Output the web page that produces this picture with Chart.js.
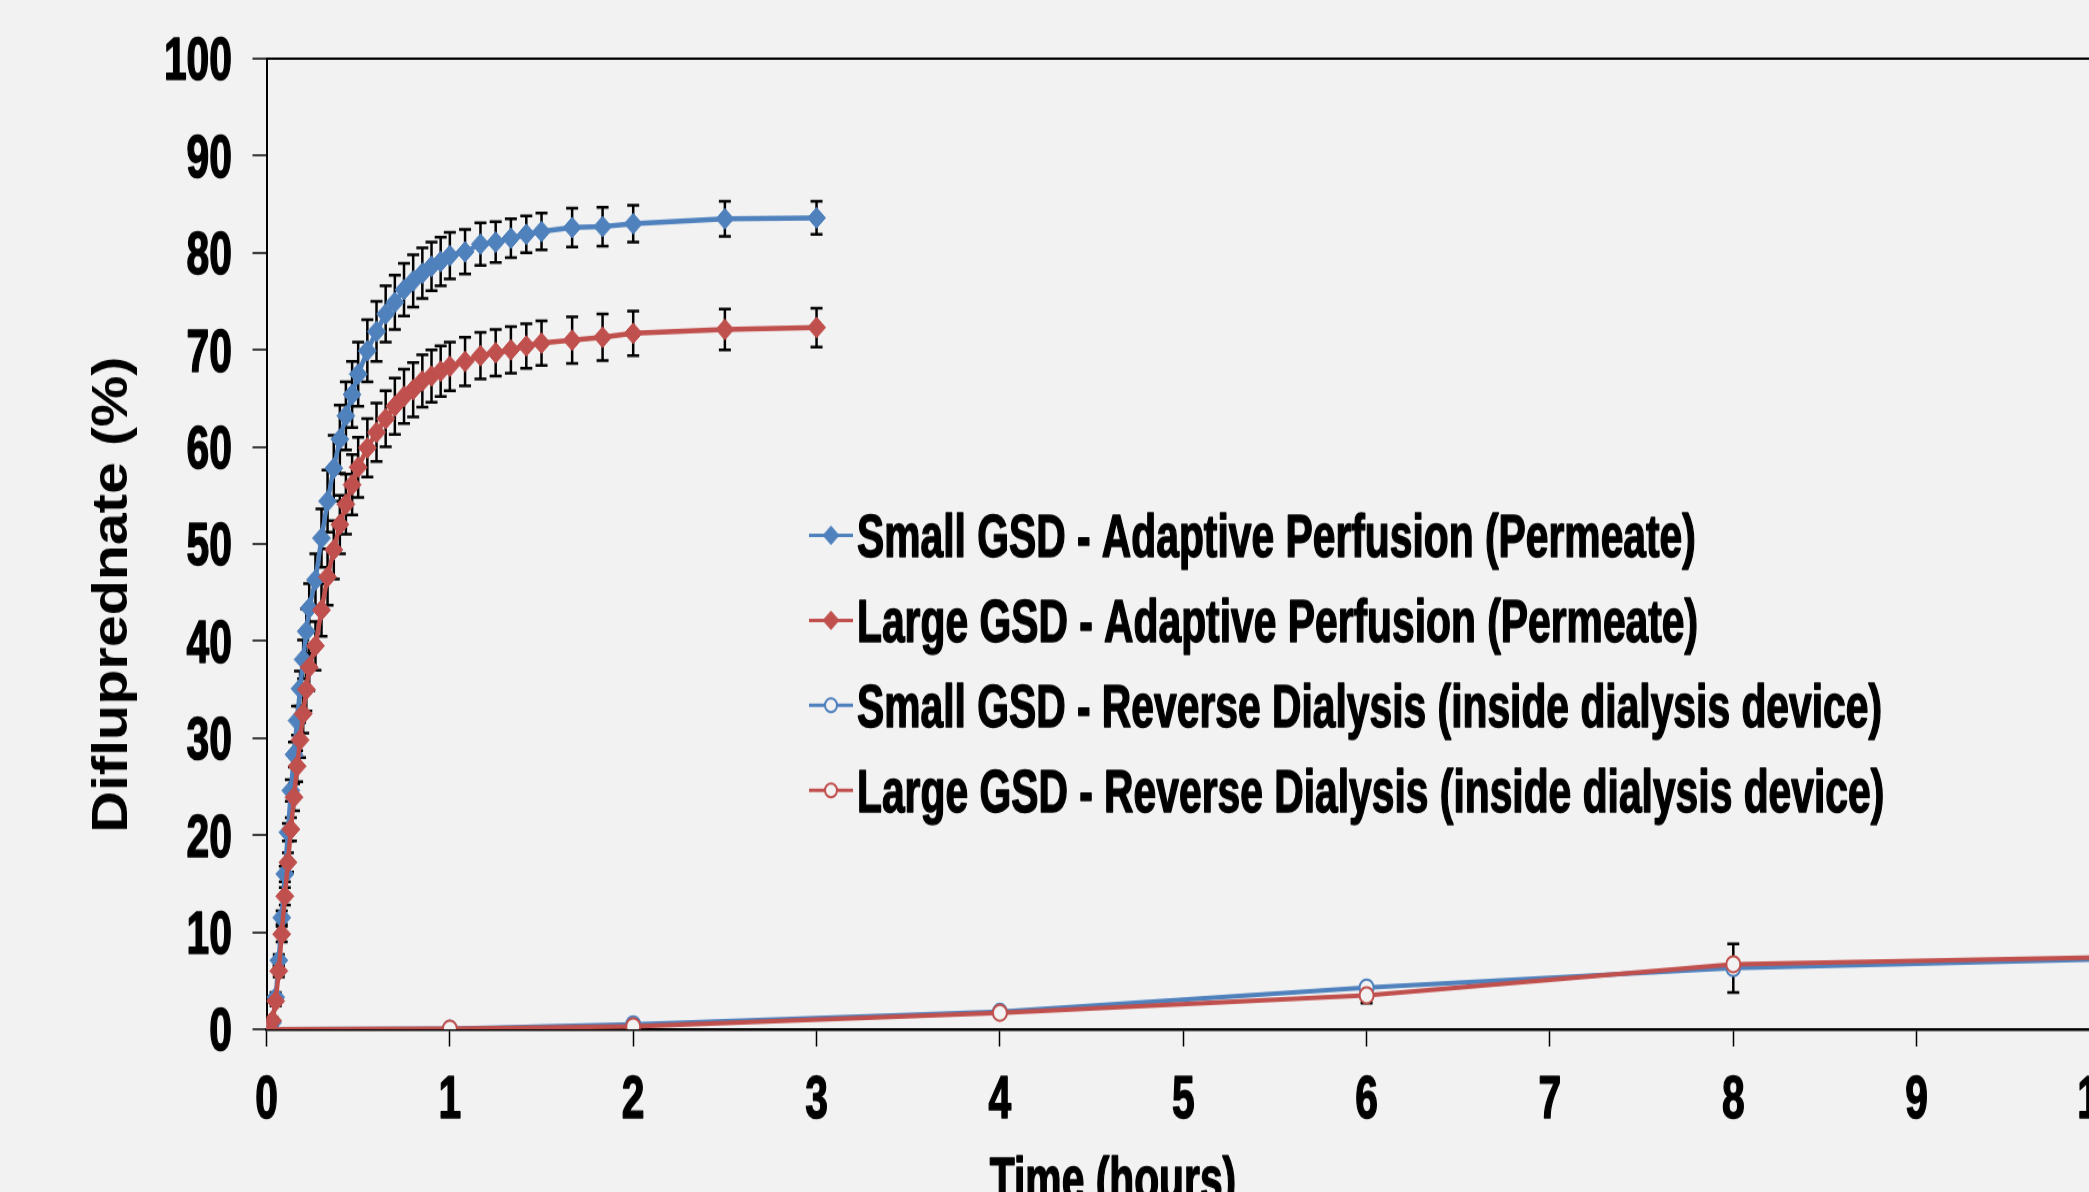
<!DOCTYPE html>
<html>
<head>
<meta charset="utf-8">
<script src="https://cdn.jsdelivr.net/npm/chart.js@4.4.1/dist/chart.umd.min.js"></script>
<style>
  html, body { margin:0; padding:0; background:#f2f2f2; overflow:hidden; }
  #wrap { position:relative; width:2089px; height:1192px; overflow:hidden; }
  #wrap canvas { position:absolute; left:0; top:0; }
</style>
</head>
<body>
<div id="wrap">
  <!-- drawn at 1060px tall, shown stretched to 1219px like the source figure -->
  <canvas id="chart" width="2140" height="1060" style="width:2140px;height:1219px"></canvas>
</div>
<script>
// ---- data -------------------------------------------------------------
const apHours = [0, 0.033, 0.05, 0.067, 0.083, 0.1, 0.117, 0.133, 0.15, 0.167, 0.183, 0.2, 0.217, 0.233,
                 0.267, 0.3, 0.333, 0.367, 0.4, 0.433, 0.467, 0.5,
                 0.55, 0.6, 0.65, 0.7, 0.75, 0.8, 0.85, 0.9, 0.95, 1.0,
                 1.083, 1.167, 1.25, 1.333, 1.417, 1.5, 1.667, 1.833, 2.0, 2.5, 3.0];

const smallAP    = [0, 0.7, 3.3, 7.1, 11.5, 16.0, 20.3, 24.6, 28.3, 31.8, 35.1, 38.1, 41.0, 43.4,
                    46.3, 50.6, 54.4, 57.8, 60.8, 63.2, 65.4, 67.5,
                    69.9, 71.9, 73.7, 74.9, 76.2, 77.1, 77.9, 78.6, 79.1, 79.7,
                    80.1, 80.9, 81.1, 81.5, 81.9, 82.2, 82.6, 82.7, 83.0, 83.5, 83.6];
const smallAPErr = [0, 0.3, 0.5, 0.6, 0.7, 0.8, 0.9, 1.1, 1.3, 1.5, 1.8, 2.0, 2.3, 2.5,
                    2.7, 3.0, 3.2, 3.4, 3.5, 3.5, 3.4, 3.3,
                    3.2, 3.1, 2.9, 2.8, 2.7, 2.7, 2.6, 2.5, 2.5, 2.4,
                    2.3, 2.2, 2.1, 2.0, 1.9, 1.9, 2.0, 2.0, 1.9, 1.8, 1.7];

const largeAP    = [0, 0.9, 2.9, 6.0, 9.8, 13.7, 17.2, 20.6, 23.9, 27.1, 29.8, 32.5, 35.0, 37.3,
                    39.5, 43.2, 46.6, 49.4, 52.0, 54.1, 56.1, 57.9,
                    59.9, 61.5, 62.9, 64.2, 65.2, 65.9, 66.8, 67.3, 67.8, 68.3,
                    68.8, 69.4, 69.7, 70.0, 70.4, 70.7, 71.0, 71.3, 71.7, 72.1, 72.3];
const largeAPErr = [0, 0.3, 0.5, 0.6, 0.8, 0.9, 1.0, 1.2, 1.4, 1.6, 1.8, 2.0, 2.2, 2.4,
                    2.5, 2.7, 2.9, 3.0, 3.0, 3.1, 3.1, 3.1,
                    3.0, 3.0, 2.9, 2.9, 2.8, 2.8, 2.7, 2.7, 2.6, 2.5,
                    2.5, 2.4, 2.4, 2.4, 2.3, 2.3, 2.4, 2.4, 2.3, 2.1, 2.0];

const rdHours    = [0, 1, 2, 4, 6, 8, 10];
const smallRD    = [0, 0.05, 0.5, 1.8, 4.3, 6.3, 7.2];
const smallRDErr = [0, 0, 0.2, 0.4, 0.3, 2.5, 0];
const largeRD    = [0, 0.05, 0.3, 1.7, 3.5, 6.7, 7.4];
const largeRDErr = [0, 0, 0.1, 0.5, 0.8, 0.4, 0];

const seriesLabels = [
  'Small GSD - Adaptive Perfusion (Permeate)',
  'Large GSD - Adaptive Perfusion (Permeate)',
  'Small GSD - Reverse Dialysis (inside dialysis device)',
  'Large GSD - Reverse Dialysis (inside dialysis device)'
];
const xTickValues = [0, 1, 2, 3, 4, 5, 6, 7, 8, 9, 10];
const yTickValues = [0, 10, 20, 30, 40, 50, 60, 70, 80, 90, 100];
const xTitle = 'Time (hours)';
const yTitle = 'Difluprednate (%)';

// ---- look -------------------------------------------------------------
const BLUE = '#4f81bd';
const RED  = '#c0504d';
const BG   = '#f2f2f2';
const SANS = "'Liberation Sans', Arial, sans-serif";
const NARROW_FONT = 'bold 51px ' + SANS;   // squeezed to 80% => Arial Narrow look
const SQUEEZE = 0.8;
const CAP = 18.3;                            // half cap height of NARROW_FONT

const pts = (xs, ys) => xs.map((x, i) => ({ x, y: ys[i] }));

function apSet(label, xs, ys, err, color, order) {
  return { label, data: pts(xs, ys), err, order,
    borderColor: color, backgroundColor: color, borderWidth: 4.5,
    pointStyle: 'rectRot', pointRadius: 9, pointBorderWidth: 1,
    pointBackgroundColor: color, pointBorderColor: color, tension: 0 };
}
function rdSet(label, xs, ys, err, color, order) {
  return { label, data: pts(xs, ys), err, order,
    borderColor: color, backgroundColor: BG, borderWidth: 4,
    pointStyle: 'circle', pointRadius: 7, pointBorderWidth: 2,
    pointBackgroundColor: BG, pointBorderColor: color, tension: 0 };
}

function narrowText(ctx, text, x, y, align) {
  ctx.save();
  ctx.translate(x, y);
  ctx.scale(SQUEEZE, 1);
  ctx.font = NARROW_FONT;
  ctx.textAlign = align;
  ctx.textBaseline = 'alphabetic';
  ctx.fillStyle = '#000';
  ctx.strokeStyle = '#000';
  ctx.lineWidth = 1.4;
  ctx.lineJoin = 'round';
  ctx.fillText(text, 0, 0);
  ctx.strokeText(text, 0, 0);
  ctx.restore();
}

// error bars, drawn under the series
const errorBars = {
  id: 'errorBars',
  beforeDatasetsDraw(chart) {
    const { ctx, scales: { x, y } } = chart;
    ctx.save();
    ctx.strokeStyle = '#000';
    ctx.lineWidth = 2.5;
    chart.data.datasets.forEach(ds => {
      ds.data.forEach((p, i) => {
        const e = ds.err[i];
        if (!e) return;
        const px = x.getPixelForValue(p.x);
        const top = y.getPixelForValue(p.y + e);
        const bot = y.getPixelForValue(p.y - e);
        ctx.beginPath();
        ctx.moveTo(px, top); ctx.lineTo(px, bot);
        ctx.moveTo(px - 6, top); ctx.lineTo(px + 6, top);
        ctx.moveTo(px - 6, bot); ctx.lineTo(px + 6, bot);
        ctx.stroke();
      });
    });
    ctx.restore();
  }
};

// tick labels, legend inside the plot, axis titles
const overlay = {
  id: 'overlay',
  afterDraw(chart) {
    const { ctx, scales: { x, y } } = chart;
    ctx.save();
    xTickValues.forEach(v => narrowText(ctx, String(v), x.getPixelForValue(v), 972, 'center'));
    yTickValues.forEach(v => narrowText(ctx, String(v), 232, y.getPixelForValue(v) + CAP, 'right'));

    const lx = 809, ly = 465.5, step = 73.9;
    chart.data.datasets.forEach((ds, i) => {
      const cy = ly + i * step;
      ctx.strokeStyle = ds.borderColor;
      ctx.lineWidth = 3;
      ctx.beginPath(); ctx.moveTo(lx, cy); ctx.lineTo(lx + 44, cy); ctx.stroke();
      ctx.fillStyle = ds.pointBackgroundColor;
      ctx.strokeStyle = ds.pointBorderColor;
      ctx.lineWidth = ds.pointBorderWidth;
      Chart.helpers.drawPoint(ctx, { pointStyle: ds.pointStyle, radius: ds.pointRadius - 1,
        borderWidth: ds.pointBorderWidth, rotation: 0 }, lx + 22, cy);
      narrowText(ctx, ds.label, lx + 48, cy + CAP, 'left');
    });

    narrowText(ctx, xTitle, 1113, 1043, 'center');

    ctx.translate(113, 517);
    ctx.rotate(-Math.PI / 2);
    ctx.fillStyle = '#000';
    ctx.font = 'bold 50px ' + SANS;
    ctx.textAlign = 'center';
    ctx.textBaseline = 'middle';
    ctx.fillText(yTitle, 0, 0);
    ctx.restore();
  }
};

new Chart(document.getElementById('chart'), {
  type: 'line',
  data: {
    datasets: [
      apSet(seriesLabels[0], apHours, smallAP, smallAPErr, BLUE, 1),
      apSet(seriesLabels[1], apHours, largeAP, largeAPErr, RED, 0),
      rdSet(seriesLabels[2], rdHours, smallRD, smallRDErr, BLUE, 1),
      rdSet(seriesLabels[3], rdHours, largeRD, largeRDErr, RED, 0)
    ]
  },
  options: {
    responsive: false,
    animation: false,
    layout: { padding: { left: 0, top: 51, right: 40, bottom: 0 } },
    plugins: { legend: { display: false }, tooltip: { enabled: false } },
    scales: {
      x: {
        type: 'linear', min: 0, max: 10,
        afterBuildTicks: s => { s.ticks = xTickValues.map(v => ({ value: v })); },
        afterFit: s => { s.height = 165; },
        border: { color: '#000', width: 2.5 },
        grid: { drawOnChartArea: false, tickLength: 15, tickColor: '#000', tickWidth: 1.5 },
        ticks: { display: false }
      },
      y: {
        type: 'linear', min: 0, max: 100,
        afterBuildTicks: s => { s.ticks = yTickValues.map(v => ({ value: v })); },
        afterFit: s => { s.width = 266.5; },
        border: { color: '#000', width: 2 },
        grid: {
          color: c => (c.tick && c.tick.value === 100) ? '#000' : 'rgba(0,0,0,0)',
          lineWidth: 2, tickLength: 14, tickColor: '#000', tickWidth: 1.5
        },
        ticks: { display: false }
      }
    }
  },
  plugins: [errorBars, overlay]
});
</script>
</body>
</html>
